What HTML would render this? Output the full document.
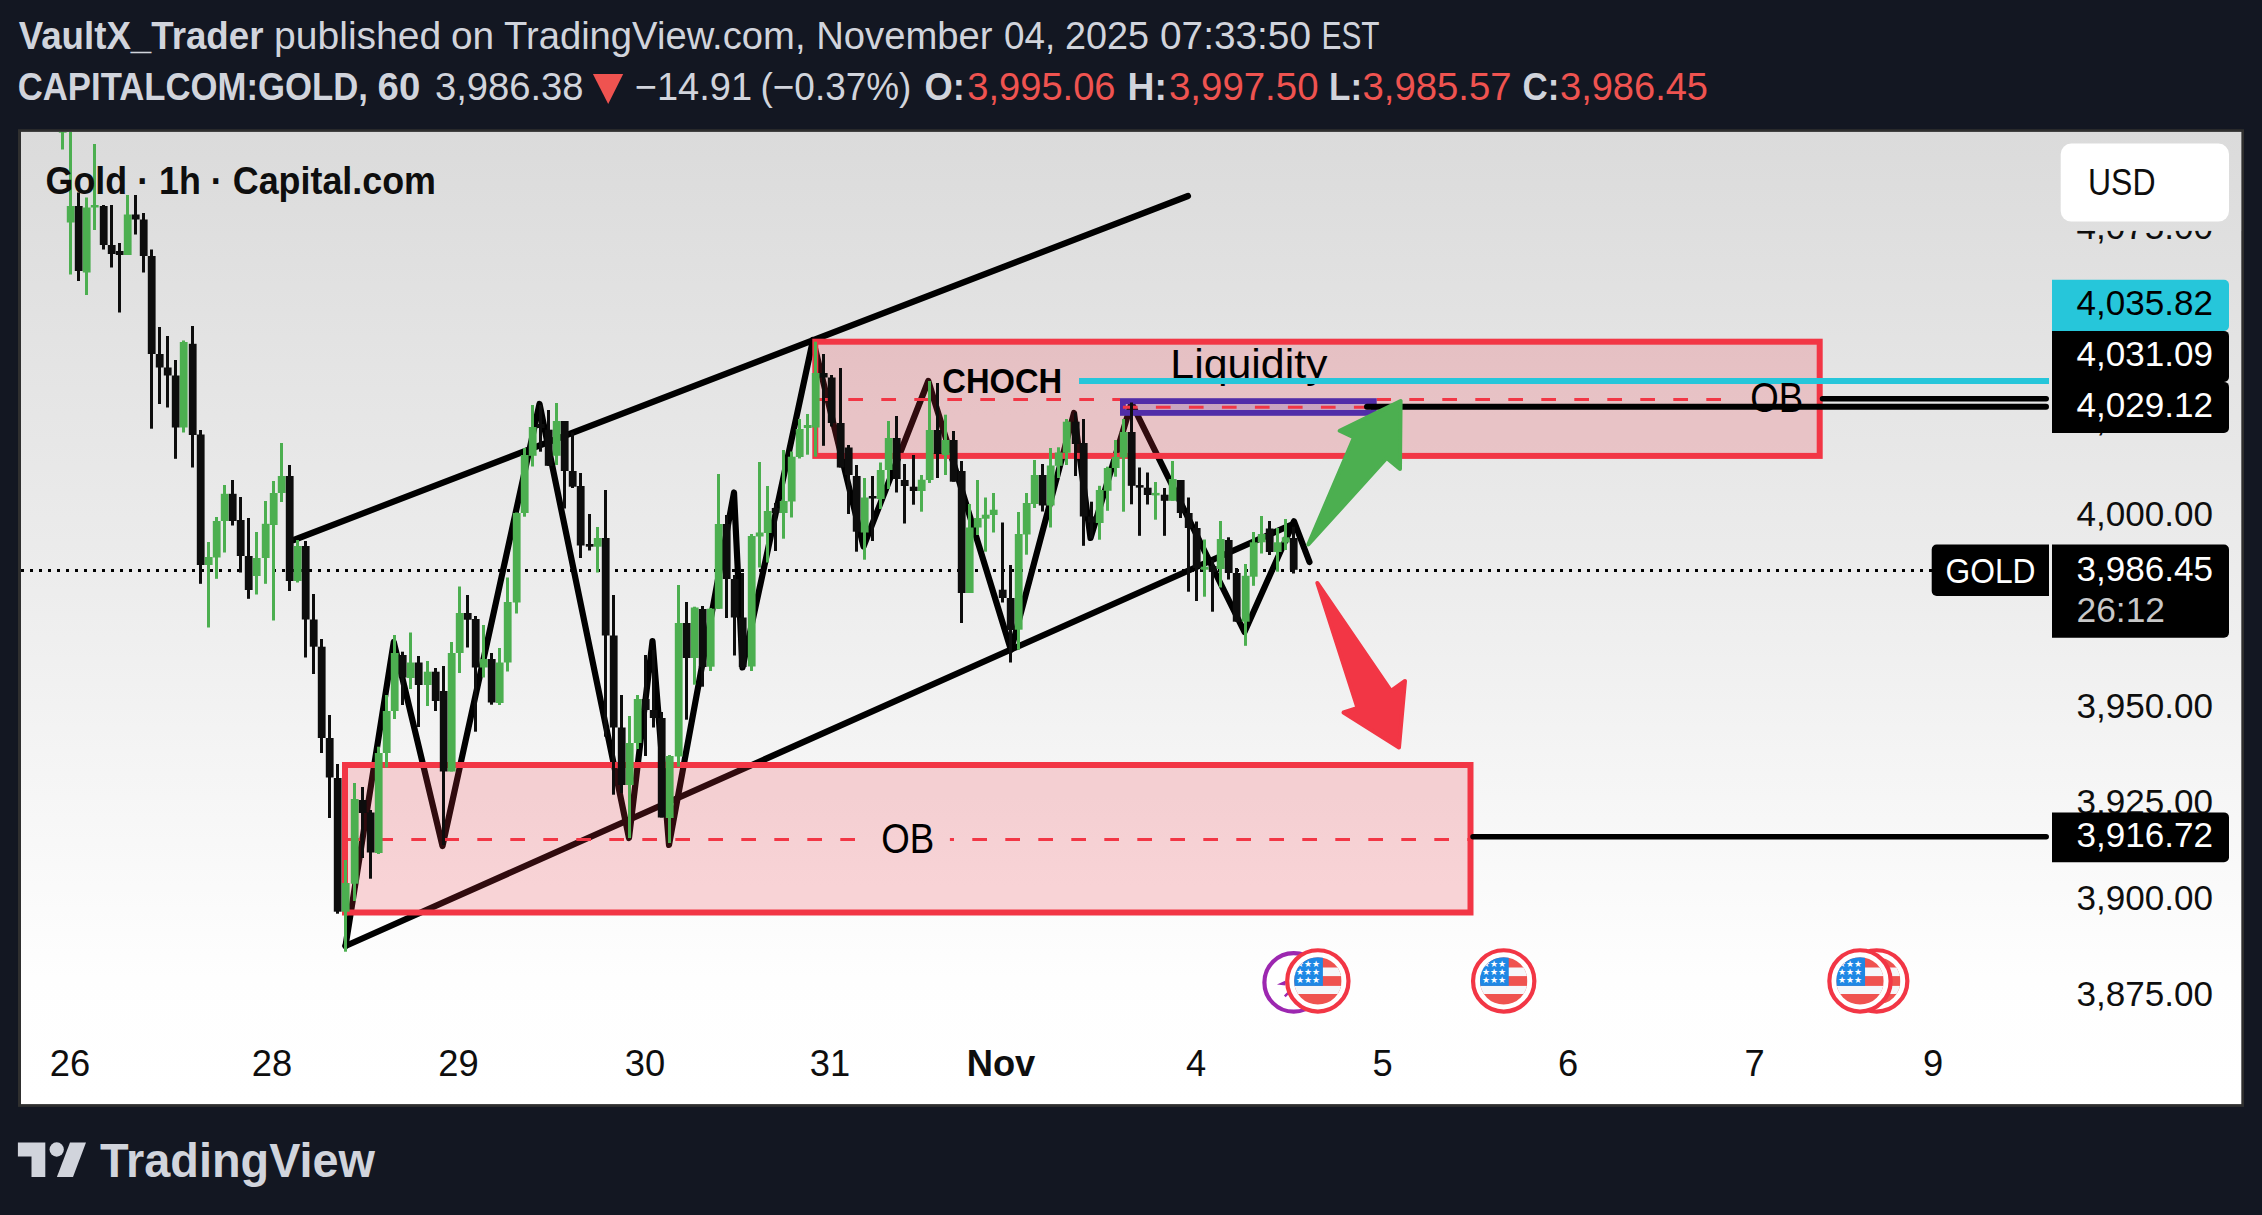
<!DOCTYPE html>
<html><head><meta charset="utf-8"><title>Gold chart</title>
<style>
html,body{margin:0;padding:0;background:#131722;}
body{width:2262px;height:1215px;overflow:hidden;font-family:'Liberation Sans', sans-serif;}
svg{display:block;position:absolute;left:0;top:0;}
svg text{font-family:'Liberation Sans', sans-serif;}
</style></head><body>
<svg width="2262" height="1215" viewBox="0 0 2262 1215">
<defs>
<linearGradient id="bg" gradientUnits="userSpaceOnUse" x1="0" y1="132" x2="0" y2="1104">
<stop offset="0" stop-color="#dbdbdb"/><stop offset="0.45" stop-color="#ececec"/><stop offset="0.87" stop-color="#fefefe"/><stop offset="1" stop-color="#ffffff"/>
</linearGradient>
<clipPath id="plot"><rect x="21" y="131.9" width="2220.3" height="972.2"/></clipPath>
</defs>
<rect x="0" y="0" width="2262" height="1215" fill="#131722"/>

<text x="18.7" y="49.4" font-size="38" fill="#d1d4dc" font-weight="bold" text-anchor="start" textLength="244.8" lengthAdjust="spacingAndGlyphs" >VaultX_Trader</text>
<text x="274.1" y="49.4" font-size="38" fill="#d1d4dc" font-weight="normal" text-anchor="start" textLength="167.18" lengthAdjust="spacingAndGlyphs" >published</text>
<text x="451.0" y="49.4" font-size="38" fill="#d1d4dc" font-weight="normal" text-anchor="start" textLength="43.19" lengthAdjust="spacingAndGlyphs" >on</text>
<text x="504.0" y="49.4" font-size="38" fill="#d1d4dc" font-weight="normal" text-anchor="start" textLength="301.53" lengthAdjust="spacingAndGlyphs" >TradingView.com,</text>
<text x="816.25" y="49.4" font-size="38" fill="#d1d4dc" font-weight="normal" text-anchor="start" textLength="176.28" lengthAdjust="spacingAndGlyphs" >November</text>
<text x="1004.0" y="49.4" font-size="38" fill="#d1d4dc" font-weight="normal" text-anchor="start" textLength="51.18" lengthAdjust="spacingAndGlyphs" >04,</text>
<text x="1065.0" y="49.4" font-size="38" fill="#d1d4dc" font-weight="normal" text-anchor="start" textLength="84.04" lengthAdjust="spacingAndGlyphs" >2025</text>
<text x="1160.0" y="49.4" font-size="38" fill="#d1d4dc" font-weight="normal" text-anchor="start" textLength="151.0" lengthAdjust="spacingAndGlyphs" >07:33:50</text>
<text x="1321.5" y="49.4" font-size="38" fill="#d1d4dc" font-weight="normal" text-anchor="start" textLength="58.03" lengthAdjust="spacingAndGlyphs" >EST</text>
<text x="17.7" y="100.4" font-size="38" fill="#d1d4dc" font-weight="bold" text-anchor="start" textLength="350.32" lengthAdjust="spacingAndGlyphs" >CAPITALCOM:GOLD,</text>
<text x="377.6" y="100.4" font-size="38" fill="#d1d4dc" font-weight="bold" text-anchor="start" textLength="42.7" lengthAdjust="spacingAndGlyphs" >60</text>
<text x="434.9" y="100.4" font-size="38" fill="#d1d4dc" font-weight="normal" text-anchor="start" textLength="148.64" lengthAdjust="spacingAndGlyphs" >3,986.38</text>
<text x="634.75" y="100.4" font-size="38" fill="#d1d4dc" font-weight="normal" text-anchor="start" textLength="117.31" lengthAdjust="spacingAndGlyphs" >−14.91</text>
<text x="760.5" y="100.4" font-size="38" fill="#d1d4dc" font-weight="normal" text-anchor="start" textLength="150.83" lengthAdjust="spacingAndGlyphs" >(−0.37%)</text>
<text x="924.5" y="100.4" font-size="38" fill="#d1d4dc" font-weight="bold" text-anchor="start" textLength="40.33" lengthAdjust="spacingAndGlyphs" >O:</text>
<text x="967.25" y="100.4" font-size="38" fill="#ef5350" font-weight="normal" text-anchor="start" textLength="148.27" lengthAdjust="spacingAndGlyphs" >3,995.06</text>
<text x="1127.5" y="100.4" font-size="38" fill="#d1d4dc" font-weight="bold" text-anchor="start" textLength="39.41" lengthAdjust="spacingAndGlyphs" >H:</text>
<text x="1169.0" y="100.4" font-size="38" fill="#ef5350" font-weight="normal" text-anchor="start" textLength="149.5" lengthAdjust="spacingAndGlyphs" >3,997.50</text>
<text x="1329.0" y="100.4" font-size="38" fill="#d1d4dc" font-weight="bold" text-anchor="start" textLength="33.07" lengthAdjust="spacingAndGlyphs" >L:</text>
<text x="1362.5" y="100.4" font-size="38" fill="#ef5350" font-weight="normal" text-anchor="start" textLength="149.02" lengthAdjust="spacingAndGlyphs" >3,985.57</text>
<text x="1522.5" y="100.4" font-size="38" fill="#d1d4dc" font-weight="bold" text-anchor="start" textLength="36.83" lengthAdjust="spacingAndGlyphs" >C:</text>
<text x="1560.0" y="100.4" font-size="38" fill="#ef5350" font-weight="normal" text-anchor="start" textLength="148.0" lengthAdjust="spacingAndGlyphs" >3,986.45</text>
<path d="M592.9 74 L623.2 74 L608.2 104 Z" fill="#ef5350"/>
<rect x="18" y="129.2" width="2226" height="977.7" fill="#2f2f2f"/>
<rect x="21" y="131.9" width="2220.3" height="972.2" fill="url(#bg)"/>
<g clip-path="url(#plot)">
<text x="2213" y="238.60000000000002" font-size="35.2" fill="#0e0e0e" font-weight="normal" text-anchor="end" textLength="136.6" lengthAdjust="spacingAndGlyphs" >4,075.00</text>
<text x="2213" y="526.3" font-size="35.2" fill="#0e0e0e" font-weight="normal" text-anchor="end" textLength="136.6" lengthAdjust="spacingAndGlyphs" >4,000.00</text>
<text x="2213" y="718.3" font-size="35.2" fill="#0e0e0e" font-weight="normal" text-anchor="end" textLength="136.6" lengthAdjust="spacingAndGlyphs" >3,950.00</text>
<text x="2213" y="814.0" font-size="35.2" fill="#0e0e0e" font-weight="normal" text-anchor="end" textLength="136.6" lengthAdjust="spacingAndGlyphs" >3,925.00</text>
<text x="2213" y="909.9" font-size="35.2" fill="#0e0e0e" font-weight="normal" text-anchor="end" textLength="136.6" lengthAdjust="spacingAndGlyphs" >3,900.00</text>
<text x="2213" y="1005.8" font-size="35.2" fill="#0e0e0e" font-weight="normal" text-anchor="end" textLength="136.6" lengthAdjust="spacingAndGlyphs" >3,875.00</text>
<text x="2213" y="430.5" font-size="35.2" fill="#0e0e0e" font-weight="normal" text-anchor="end" textLength="136.6" lengthAdjust="spacingAndGlyphs" >4,025.00</text>
<line x1="21" y1="570.5" x2="1932" y2="570.5" stroke="#000" stroke-width="3" stroke-dasharray="3 6"/>
<g fill="none" stroke="#000" stroke-width="6.2" stroke-linecap="round" stroke-linejoin="round">
<line x1="293.75" y1="540" x2="1188" y2="196"/>
<line x1="345.5" y1="946" x2="1293" y2="524"/>
<polyline points="345.5,946 393.75,642 442.5,846 539.5,404 629,838 652.5,641 669,845 734,492.5 742.5,667.5 813,340 863.5,546.5 928.3,381 1011,650 1074,413 1090.5,538 1131.5,403 1244.5,632 1294,521.3 1309.5,562"/>
</g>
<rect x="815.3" y="341.7" width="1004.4" height="114.2" fill="#f23645" fill-opacity="0.2" stroke="#f23645" stroke-width="6"/>
<line x1="815.3" y1="399.6" x2="1120" y2="399.6" stroke="#f23645" stroke-width="3" stroke-dasharray="14.7 18.3"/>
<line x1="1376.7" y1="399.6" x2="1722" y2="399.6" stroke="#f23645" stroke-width="3" stroke-dasharray="14.7 18.3" stroke-dashoffset="0.4"/>
<rect x="345" y="765" width="1125.5" height="147.5" fill="#f23645" fill-opacity="0.2" stroke="#f23645" stroke-width="6"/>
<line x1="345.3" y1="839.6" x2="856" y2="839.6" stroke="#f23645" stroke-width="3" stroke-dasharray="14.7 18.3"/>
<line x1="949.9" y1="839.6" x2="1468" y2="839.6" stroke="#f23645" stroke-width="3" stroke-dasharray="14.7 18.3" stroke-dashoffset="10.6"/>
<rect x="1122.9" y="401.1" width="250.9" height="11.8" fill="#512da8" fill-opacity="0.2" stroke="#512da8" stroke-width="5.8"/>
<line x1="1122.9" y1="407.2" x2="1374" y2="407.2" stroke="#f23645" stroke-width="3" stroke-dasharray="14.7 18.3"/>
<rect x="61" y="131.0" width="3" height="18.5" fill="#4caf50"/>
<rect x="58.8" y="130.2" width="7.8" height="2.5" fill="#4caf50"/>
<rect x="69" y="131.0" width="3" height="143.5" fill="#4caf50"/>
<rect x="66.8" y="206.0" width="7.8" height="16.5" fill="#4caf50"/>
<rect x="77" y="192.5" width="3" height="88.5" fill="#0d0d0d"/>
<rect x="74.8" y="206.0" width="7.8" height="65.0" fill="#0d0d0d"/>
<rect x="85" y="197.5" width="3" height="97.5" fill="#4caf50"/>
<rect x="82.8" y="207.5" width="7.8" height="65.0" fill="#4caf50"/>
<rect x="93" y="144.0" width="3" height="86.0" fill="#4caf50"/>
<rect x="90.8" y="205.0" width="7.8" height="2.5" fill="#4caf50"/>
<rect x="102" y="205.0" width="3" height="44.5" fill="#0d0d0d"/>
<rect x="99.8" y="206.0" width="7.8" height="39.0" fill="#0d0d0d"/>
<rect x="110" y="205.0" width="3" height="62.5" fill="#0d0d0d"/>
<rect x="107.8" y="245.0" width="7.8" height="9.0" fill="#0d0d0d"/>
<rect x="118" y="243.0" width="3" height="69.5" fill="#0d0d0d"/>
<rect x="115.8" y="251.0" width="7.8" height="4.0" fill="#0d0d0d"/>
<rect x="126" y="195.0" width="3" height="60.0" fill="#4caf50"/>
<rect x="123.8" y="214.5" width="7.8" height="40.5" fill="#4caf50"/>
<rect x="134" y="195.0" width="3" height="39.5" fill="#0d0d0d"/>
<rect x="131.8" y="214.5" width="7.8" height="5.0" fill="#0d0d0d"/>
<rect x="142" y="213.0" width="3" height="59.5" fill="#0d0d0d"/>
<rect x="139.8" y="219.5" width="7.8" height="36.5" fill="#0d0d0d"/>
<rect x="150" y="249.5" width="3" height="179.2" fill="#0d0d0d"/>
<rect x="147.8" y="256.0" width="7.8" height="98.0" fill="#0d0d0d"/>
<rect x="158" y="327.0" width="3" height="77.0" fill="#0d0d0d"/>
<rect x="155.8" y="354.0" width="7.8" height="13.5" fill="#0d0d0d"/>
<rect x="166" y="336.0" width="3" height="71.5" fill="#0d0d0d"/>
<rect x="163.8" y="367.5" width="7.8" height="8.0" fill="#0d0d0d"/>
<rect x="174" y="360.0" width="3" height="98.8" fill="#0d0d0d"/>
<rect x="171.8" y="375.5" width="7.8" height="52.0" fill="#0d0d0d"/>
<rect x="182" y="340.5" width="3" height="92.0" fill="#4caf50"/>
<rect x="179.8" y="342.0" width="7.8" height="85.5" fill="#4caf50"/>
<rect x="191" y="326.0" width="3" height="141.5" fill="#0d0d0d"/>
<rect x="188.8" y="343.8" width="7.8" height="91.2" fill="#0d0d0d"/>
<rect x="199" y="430.0" width="3" height="153.8" fill="#0d0d0d"/>
<rect x="196.8" y="434.5" width="7.8" height="130.5" fill="#0d0d0d"/>
<rect x="207" y="542.0" width="3" height="85.5" fill="#4caf50"/>
<rect x="204.8" y="557.0" width="7.8" height="8.0" fill="#4caf50"/>
<rect x="215" y="517.0" width="3" height="61.8" fill="#4caf50"/>
<rect x="212.8" y="521.0" width="7.8" height="36.5" fill="#4caf50"/>
<rect x="223" y="485.0" width="3" height="67.5" fill="#4caf50"/>
<rect x="220.8" y="493.8" width="7.8" height="27.2" fill="#4caf50"/>
<rect x="231" y="480.0" width="3" height="45.5" fill="#0d0d0d"/>
<rect x="228.8" y="493.8" width="7.8" height="27.2" fill="#0d0d0d"/>
<rect x="239" y="497.0" width="3" height="75.5" fill="#0d0d0d"/>
<rect x="236.8" y="520.0" width="7.8" height="36.0" fill="#0d0d0d"/>
<rect x="247" y="518.0" width="3" height="80.8" fill="#0d0d0d"/>
<rect x="244.8" y="556.0" width="7.8" height="34.0" fill="#0d0d0d"/>
<rect x="255" y="532.0" width="3" height="62.5" fill="#4caf50"/>
<rect x="252.8" y="558.0" width="7.8" height="18.0" fill="#4caf50"/>
<rect x="264" y="501.0" width="3" height="82.8" fill="#4caf50"/>
<rect x="261.8" y="523.8" width="7.8" height="34.2" fill="#4caf50"/>
<rect x="272" y="481.0" width="3" height="139.5" fill="#4caf50"/>
<rect x="269.8" y="493.0" width="7.8" height="32.0" fill="#4caf50"/>
<rect x="280" y="443.0" width="3" height="59.0" fill="#4caf50"/>
<rect x="277.8" y="476.0" width="7.8" height="17.0" fill="#4caf50"/>
<rect x="288" y="465.0" width="3" height="126.0" fill="#0d0d0d"/>
<rect x="285.8" y="476.0" width="7.8" height="105.0" fill="#0d0d0d"/>
<rect x="296" y="540.0" width="3" height="42.5" fill="#4caf50"/>
<rect x="293.8" y="546.0" width="7.8" height="35.0" fill="#4caf50"/>
<rect x="304" y="541.0" width="3" height="116.5" fill="#0d0d0d"/>
<rect x="301.8" y="546.0" width="7.8" height="73.5" fill="#0d0d0d"/>
<rect x="312" y="594.0" width="3" height="80.0" fill="#0d0d0d"/>
<rect x="309.8" y="619.5" width="7.8" height="27.2" fill="#0d0d0d"/>
<rect x="320" y="639.0" width="3" height="114.0" fill="#0d0d0d"/>
<rect x="317.8" y="646.7" width="7.8" height="91.3" fill="#0d0d0d"/>
<rect x="328" y="715.0" width="3" height="103.0" fill="#0d0d0d"/>
<rect x="325.8" y="738.0" width="7.8" height="39.5" fill="#0d0d0d"/>
<rect x="336" y="764.0" width="3" height="149.7" fill="#0d0d0d"/>
<rect x="333.8" y="778.0" width="7.8" height="133.7" fill="#0d0d0d"/>
<rect x="344" y="860.0" width="3" height="91.7" fill="#4caf50"/>
<rect x="341.8" y="883.0" width="7.8" height="28.7" fill="#4caf50"/>
<rect x="353" y="783.0" width="3" height="118.0" fill="#4caf50"/>
<rect x="350.8" y="799.0" width="7.8" height="84.7" fill="#4caf50"/>
<rect x="361" y="787.0" width="3" height="71.0" fill="#0d0d0d"/>
<rect x="358.8" y="800.0" width="7.8" height="13.0" fill="#0d0d0d"/>
<rect x="369" y="810.0" width="3" height="68.7" fill="#0d0d0d"/>
<rect x="366.8" y="812.5" width="7.8" height="40.0" fill="#0d0d0d"/>
<rect x="377" y="746.7" width="3" height="107.3" fill="#4caf50"/>
<rect x="374.8" y="753.0" width="7.8" height="100.0" fill="#4caf50"/>
<rect x="385" y="695.0" width="3" height="72.5" fill="#4caf50"/>
<rect x="382.8" y="711.0" width="7.8" height="42.0" fill="#4caf50"/>
<rect x="393" y="635.0" width="3" height="84.0" fill="#4caf50"/>
<rect x="390.8" y="653.0" width="7.8" height="58.0" fill="#4caf50"/>
<rect x="401" y="651.7" width="3" height="53.3" fill="#0d0d0d"/>
<rect x="398.8" y="655.0" width="7.8" height="22.5" fill="#0d0d0d"/>
<rect x="409" y="632.5" width="3" height="56.5" fill="#4caf50"/>
<rect x="406.8" y="662.5" width="7.8" height="15.5" fill="#4caf50"/>
<rect x="417" y="656.0" width="3" height="71.0" fill="#0d0d0d"/>
<rect x="414.8" y="662.5" width="7.8" height="22.5" fill="#0d0d0d"/>
<rect x="426" y="661.0" width="3" height="45.0" fill="#4caf50"/>
<rect x="423.8" y="671.7" width="7.8" height="13.3" fill="#4caf50"/>
<rect x="434" y="668.0" width="3" height="43.0" fill="#0d0d0d"/>
<rect x="431.8" y="671.7" width="7.8" height="29.3" fill="#0d0d0d"/>
<rect x="442" y="666.0" width="3" height="179.0" fill="#0d0d0d"/>
<rect x="439.8" y="691.0" width="7.8" height="80.5" fill="#0d0d0d"/>
<rect x="450" y="642.0" width="3" height="129.5" fill="#4caf50"/>
<rect x="447.8" y="653.0" width="7.8" height="118.5" fill="#4caf50"/>
<rect x="458" y="586.5" width="3" height="86.5" fill="#4caf50"/>
<rect x="455.8" y="613.0" width="7.8" height="40.0" fill="#4caf50"/>
<rect x="466" y="595.0" width="3" height="52.5" fill="#0d0d0d"/>
<rect x="463.8" y="613.0" width="7.8" height="6.7" fill="#0d0d0d"/>
<rect x="474" y="616.0" width="3" height="115.7" fill="#0d0d0d"/>
<rect x="471.8" y="619.0" width="7.8" height="48.5" fill="#0d0d0d"/>
<rect x="482" y="625.0" width="3" height="52.5" fill="#4caf50"/>
<rect x="479.8" y="659.0" width="7.8" height="8.5" fill="#4caf50"/>
<rect x="490" y="653.0" width="3" height="51.7" fill="#0d0d0d"/>
<rect x="487.8" y="659.0" width="7.8" height="43.5" fill="#0d0d0d"/>
<rect x="498" y="648.0" width="3" height="57.0" fill="#4caf50"/>
<rect x="495.8" y="662.5" width="7.8" height="40.5" fill="#4caf50"/>
<rect x="506" y="577.5" width="3" height="94.0" fill="#4caf50"/>
<rect x="503.8" y="602.0" width="7.8" height="60.5" fill="#4caf50"/>
<rect x="515" y="512.5" width="3" height="101.0" fill="#4caf50"/>
<rect x="512.8" y="513.0" width="7.8" height="89.5" fill="#4caf50"/>
<rect x="523" y="448.0" width="3" height="68.7" fill="#4caf50"/>
<rect x="520.8" y="455.0" width="7.8" height="58.0" fill="#4caf50"/>
<rect x="531" y="405.0" width="3" height="61.5" fill="#4caf50"/>
<rect x="528.8" y="427.0" width="7.8" height="28.8" fill="#4caf50"/>
<rect x="539" y="405.0" width="3" height="46.7" fill="#0d0d0d"/>
<rect x="536.8" y="424.0" width="7.8" height="4.0" fill="#0d0d0d"/>
<rect x="547" y="410.0" width="3" height="55.8" fill="#0d0d0d"/>
<rect x="544.8" y="429.7" width="7.8" height="36.1" fill="#0d0d0d"/>
<rect x="555" y="403.0" width="3" height="62.0" fill="#4caf50"/>
<rect x="552.8" y="421.0" width="7.8" height="34.8" fill="#4caf50"/>
<rect x="563" y="421.0" width="3" height="87.5" fill="#0d0d0d"/>
<rect x="560.8" y="421.0" width="7.8" height="50.0" fill="#0d0d0d"/>
<rect x="571" y="432.5" width="3" height="55.5" fill="#0d0d0d"/>
<rect x="568.8" y="471.0" width="7.8" height="15.7" fill="#0d0d0d"/>
<rect x="579" y="473.0" width="3" height="85.0" fill="#0d0d0d"/>
<rect x="576.8" y="486.0" width="7.8" height="59.5" fill="#0d0d0d"/>
<rect x="588" y="514.0" width="3" height="36.5" fill="#0d0d0d"/>
<rect x="585.8" y="544.0" width="7.8" height="2.7" fill="#0d0d0d"/>
<rect x="596" y="527.0" width="3" height="45.5" fill="#4caf50"/>
<rect x="593.8" y="538.0" width="7.8" height="8.7" fill="#4caf50"/>
<rect x="604" y="490.0" width="3" height="246.7" fill="#0d0d0d"/>
<rect x="601.8" y="538.0" width="7.8" height="97.5" fill="#0d0d0d"/>
<rect x="612" y="595.0" width="3" height="199.7" fill="#0d0d0d"/>
<rect x="609.8" y="635.5" width="7.8" height="92.0" fill="#0d0d0d"/>
<rect x="620" y="695.0" width="3" height="98.0" fill="#0d0d0d"/>
<rect x="617.8" y="727.5" width="7.8" height="57.5" fill="#0d0d0d"/>
<rect x="628" y="716.0" width="3" height="122.0" fill="#4caf50"/>
<rect x="625.8" y="743.0" width="7.8" height="42.0" fill="#4caf50"/>
<rect x="636" y="695.0" width="3" height="54.0" fill="#4caf50"/>
<rect x="633.8" y="699.0" width="7.8" height="44.0" fill="#4caf50"/>
<rect x="644" y="655.0" width="3" height="101.0" fill="#0d0d0d"/>
<rect x="641.8" y="699.0" width="7.8" height="11.0" fill="#0d0d0d"/>
<rect x="652" y="650.0" width="3" height="77.5" fill="#0d0d0d"/>
<rect x="649.8" y="710.0" width="7.8" height="8.0" fill="#0d0d0d"/>
<rect x="660" y="712.0" width="3" height="105.5" fill="#0d0d0d"/>
<rect x="657.8" y="718.0" width="7.8" height="99.5" fill="#0d0d0d"/>
<rect x="668" y="755.0" width="3" height="88.0" fill="#4caf50"/>
<rect x="665.8" y="756.0" width="7.8" height="62.0" fill="#4caf50"/>
<rect x="677" y="585.0" width="3" height="181.7" fill="#4caf50"/>
<rect x="674.8" y="623.0" width="7.8" height="133.5" fill="#4caf50"/>
<rect x="685" y="602.0" width="3" height="117.7" fill="#0d0d0d"/>
<rect x="682.8" y="623.0" width="7.8" height="35.0" fill="#0d0d0d"/>
<rect x="693" y="606.7" width="3" height="78.0" fill="#4caf50"/>
<rect x="690.8" y="607.5" width="7.8" height="50.5" fill="#4caf50"/>
<rect x="701" y="606.0" width="3" height="80.7" fill="#0d0d0d"/>
<rect x="698.8" y="609.0" width="7.8" height="58.0" fill="#0d0d0d"/>
<rect x="709" y="608.0" width="3" height="63.0" fill="#4caf50"/>
<rect x="706.8" y="608.7" width="7.8" height="58.0" fill="#4caf50"/>
<rect x="717" y="474.0" width="3" height="135.0" fill="#4caf50"/>
<rect x="714.8" y="524.0" width="7.8" height="84.8" fill="#4caf50"/>
<rect x="725" y="515.0" width="3" height="103.0" fill="#0d0d0d"/>
<rect x="722.8" y="524.0" width="7.8" height="55.0" fill="#0d0d0d"/>
<rect x="733" y="575.0" width="3" height="80.5" fill="#0d0d0d"/>
<rect x="730.8" y="579.0" width="7.8" height="38.5" fill="#0d0d0d"/>
<rect x="741" y="573.0" width="3" height="95.5" fill="#0d0d0d"/>
<rect x="738.8" y="617.5" width="7.8" height="49.5" fill="#0d0d0d"/>
<rect x="750" y="534.0" width="3" height="137.0" fill="#4caf50"/>
<rect x="747.8" y="536.0" width="7.8" height="130.5" fill="#4caf50"/>
<rect x="758" y="462.0" width="3" height="105.5" fill="#4caf50"/>
<rect x="755.8" y="532.5" width="7.8" height="4.0" fill="#4caf50"/>
<rect x="766" y="486.0" width="3" height="76.5" fill="#4caf50"/>
<rect x="763.8" y="511.0" width="7.8" height="22.0" fill="#4caf50"/>
<rect x="774" y="503.0" width="3" height="48.0" fill="#0d0d0d"/>
<rect x="771.8" y="508.0" width="7.8" height="5.0" fill="#0d0d0d"/>
<rect x="782" y="450.0" width="3" height="88.7" fill="#4caf50"/>
<rect x="779.8" y="501.0" width="7.8" height="12.0" fill="#4caf50"/>
<rect x="790" y="451.5" width="3" height="66.0" fill="#4caf50"/>
<rect x="787.8" y="456.7" width="7.8" height="44.8" fill="#4caf50"/>
<rect x="798" y="419.0" width="3" height="39.5" fill="#4caf50"/>
<rect x="795.8" y="429.0" width="7.8" height="28.0" fill="#4caf50"/>
<rect x="806" y="414.0" width="3" height="40.7" fill="#4caf50"/>
<rect x="803.8" y="425.0" width="7.8" height="3.0" fill="#4caf50"/>
<rect x="814" y="341.7" width="3" height="115.0" fill="#4caf50"/>
<rect x="811.8" y="373.0" width="7.8" height="54.5" fill="#4caf50"/>
<rect x="822" y="354.0" width="3" height="91.8" fill="#0d0d0d"/>
<rect x="819.8" y="373.0" width="7.8" height="4.5" fill="#0d0d0d"/>
<rect x="830" y="375.0" width="3" height="51.5" fill="#0d0d0d"/>
<rect x="827.8" y="377.5" width="7.8" height="45.5" fill="#0d0d0d"/>
<rect x="839" y="368.0" width="3" height="99.5" fill="#0d0d0d"/>
<rect x="836.8" y="423.0" width="7.8" height="44.5" fill="#0d0d0d"/>
<rect x="847" y="445.0" width="3" height="69.0" fill="#0d0d0d"/>
<rect x="844.8" y="447.5" width="7.8" height="27.5" fill="#0d0d0d"/>
<rect x="855" y="465.0" width="3" height="86.7" fill="#0d0d0d"/>
<rect x="852.8" y="476.0" width="7.8" height="55.7" fill="#0d0d0d"/>
<rect x="863" y="478.0" width="3" height="81.7" fill="#4caf50"/>
<rect x="860.8" y="497.5" width="7.8" height="35.0" fill="#4caf50"/>
<rect x="871" y="476.0" width="3" height="65.0" fill="#0d0d0d"/>
<rect x="868.8" y="496.0" width="7.8" height="2.5" fill="#0d0d0d"/>
<rect x="879" y="462.5" width="3" height="46.5" fill="#4caf50"/>
<rect x="876.8" y="470.0" width="7.8" height="29.0" fill="#4caf50"/>
<rect x="887" y="421.0" width="3" height="68.0" fill="#4caf50"/>
<rect x="884.8" y="438.0" width="7.8" height="32.0" fill="#4caf50"/>
<rect x="895" y="416.0" width="3" height="76.5" fill="#0d0d0d"/>
<rect x="892.8" y="438.0" width="7.8" height="41.0" fill="#0d0d0d"/>
<rect x="903" y="464.0" width="3" height="59.5" fill="#0d0d0d"/>
<rect x="900.8" y="480.0" width="7.8" height="6.0" fill="#0d0d0d"/>
<rect x="912" y="455.0" width="3" height="49.7" fill="#0d0d0d"/>
<rect x="909.8" y="486.7" width="7.8" height="4.3" fill="#0d0d0d"/>
<rect x="920" y="475.0" width="3" height="36.7" fill="#4caf50"/>
<rect x="917.8" y="479.7" width="7.8" height="11.3" fill="#4caf50"/>
<rect x="928" y="381.0" width="3" height="102.0" fill="#4caf50"/>
<rect x="925.8" y="430.0" width="7.8" height="50.0" fill="#4caf50"/>
<rect x="936" y="383.0" width="3" height="95.0" fill="#0d0d0d"/>
<rect x="933.8" y="430.0" width="7.8" height="24.0" fill="#0d0d0d"/>
<rect x="944" y="414.7" width="3" height="60.3" fill="#4caf50"/>
<rect x="941.8" y="440.0" width="7.8" height="15.0" fill="#4caf50"/>
<rect x="952" y="431.0" width="3" height="50.7" fill="#0d0d0d"/>
<rect x="949.8" y="440.0" width="7.8" height="41.7" fill="#0d0d0d"/>
<rect x="960" y="461.0" width="3" height="162.0" fill="#0d0d0d"/>
<rect x="957.8" y="471.0" width="7.8" height="122.0" fill="#0d0d0d"/>
<rect x="968" y="504.0" width="3" height="89.0" fill="#4caf50"/>
<rect x="965.8" y="527.5" width="7.8" height="65.5" fill="#4caf50"/>
<rect x="976" y="480.0" width="3" height="55.0" fill="#4caf50"/>
<rect x="973.8" y="518.0" width="7.8" height="9.5" fill="#4caf50"/>
<rect x="984" y="497.5" width="3" height="54.2" fill="#4caf50"/>
<rect x="981.8" y="514.7" width="7.8" height="4.0" fill="#4caf50"/>
<rect x="992" y="493.0" width="3" height="39.5" fill="#4caf50"/>
<rect x="989.8" y="509.7" width="7.8" height="5.3" fill="#4caf50"/>
<rect x="1001" y="522.5" width="3" height="80.0" fill="#0d0d0d"/>
<rect x="998.8" y="589.7" width="7.8" height="8.3" fill="#0d0d0d"/>
<rect x="1009" y="565.0" width="3" height="97.5" fill="#0d0d0d"/>
<rect x="1006.8" y="598.0" width="7.8" height="32.0" fill="#0d0d0d"/>
<rect x="1017" y="512.0" width="3" height="137.7" fill="#4caf50"/>
<rect x="1014.8" y="534.0" width="7.8" height="95.7" fill="#4caf50"/>
<rect x="1025" y="493.0" width="3" height="61.7" fill="#4caf50"/>
<rect x="1022.8" y="503.0" width="7.8" height="31.5" fill="#4caf50"/>
<rect x="1033" y="460.0" width="3" height="48.0" fill="#4caf50"/>
<rect x="1030.8" y="475.0" width="7.8" height="29.0" fill="#4caf50"/>
<rect x="1041" y="464.0" width="3" height="47.5" fill="#0d0d0d"/>
<rect x="1038.8" y="475.0" width="7.8" height="30.5" fill="#0d0d0d"/>
<rect x="1049" y="448.0" width="3" height="79.5" fill="#4caf50"/>
<rect x="1046.8" y="465.5" width="7.8" height="40.0" fill="#4caf50"/>
<rect x="1057" y="447.3" width="3" height="30.7" fill="#4caf50"/>
<rect x="1054.8" y="452.5" width="7.8" height="13.3" fill="#4caf50"/>
<rect x="1065" y="419.0" width="3" height="46.0" fill="#4caf50"/>
<rect x="1062.8" y="421.7" width="7.8" height="31.1" fill="#4caf50"/>
<rect x="1074" y="412.5" width="3" height="63.5" fill="#0d0d0d"/>
<rect x="1071.8" y="421.7" width="7.8" height="22.3" fill="#0d0d0d"/>
<rect x="1082" y="419.0" width="3" height="126.8" fill="#0d0d0d"/>
<rect x="1079.8" y="443.0" width="7.8" height="73.5" fill="#0d0d0d"/>
<rect x="1090" y="501.7" width="3" height="36.8" fill="#0d0d0d"/>
<rect x="1087.8" y="516.5" width="7.8" height="6.0" fill="#0d0d0d"/>
<rect x="1098" y="485.8" width="3" height="53.9" fill="#4caf50"/>
<rect x="1095.8" y="490.0" width="7.8" height="33.0" fill="#4caf50"/>
<rect x="1106" y="466.7" width="3" height="44.1" fill="#4caf50"/>
<rect x="1103.8" y="468.0" width="7.8" height="22.8" fill="#4caf50"/>
<rect x="1114" y="440.0" width="3" height="36.7" fill="#4caf50"/>
<rect x="1111.8" y="457.0" width="7.8" height="11.0" fill="#4caf50"/>
<rect x="1122" y="419.0" width="3" height="92.7" fill="#4caf50"/>
<rect x="1119.8" y="432.0" width="7.8" height="25.5" fill="#4caf50"/>
<rect x="1130" y="402.5" width="3" height="101.8" fill="#0d0d0d"/>
<rect x="1127.8" y="432.0" width="7.8" height="53.8" fill="#0d0d0d"/>
<rect x="1138" y="467.5" width="3" height="68.3" fill="#0d0d0d"/>
<rect x="1135.8" y="485.1" width="7.8" height="2.5" fill="#0d0d0d"/>
<rect x="1146" y="472.5" width="3" height="32.0" fill="#0d0d0d"/>
<rect x="1143.8" y="487.7" width="7.8" height="7.3" fill="#0d0d0d"/>
<rect x="1154" y="482.0" width="3" height="37.7" fill="#4caf50"/>
<rect x="1151.8" y="492.9" width="7.8" height="2.5" fill="#4caf50"/>
<rect x="1163" y="488.0" width="3" height="47.8" fill="#0d0d0d"/>
<rect x="1160.8" y="494.7" width="7.8" height="6.1" fill="#0d0d0d"/>
<rect x="1171" y="461.0" width="3" height="39.8" fill="#4caf50"/>
<rect x="1168.8" y="479.0" width="7.8" height="21.8" fill="#4caf50"/>
<rect x="1179" y="480.0" width="3" height="38.0" fill="#0d0d0d"/>
<rect x="1176.8" y="480.0" width="7.8" height="33.0" fill="#0d0d0d"/>
<rect x="1187" y="497.5" width="3" height="94.2" fill="#0d0d0d"/>
<rect x="1184.8" y="513.0" width="7.8" height="15.0" fill="#0d0d0d"/>
<rect x="1195" y="521.5" width="3" height="79.5" fill="#0d0d0d"/>
<rect x="1192.8" y="528.0" width="7.8" height="40.0" fill="#0d0d0d"/>
<rect x="1203" y="539.5" width="3" height="57.2" fill="#4caf50"/>
<rect x="1200.8" y="566.7" width="7.8" height="3.0" fill="#4caf50"/>
<rect x="1211" y="560.0" width="3" height="51.7" fill="#0d0d0d"/>
<rect x="1208.8" y="566.0" width="7.8" height="6.0" fill="#0d0d0d"/>
<rect x="1219" y="521.0" width="3" height="66.5" fill="#4caf50"/>
<rect x="1216.8" y="539.0" width="7.8" height="30.0" fill="#4caf50"/>
<rect x="1227" y="537.3" width="3" height="42.2" fill="#0d0d0d"/>
<rect x="1224.8" y="540.0" width="7.8" height="33.0" fill="#0d0d0d"/>
<rect x="1235" y="568.0" width="3" height="53.7" fill="#0d0d0d"/>
<rect x="1232.8" y="573.0" width="7.8" height="48.7" fill="#0d0d0d"/>
<rect x="1244" y="564.0" width="3" height="81.8" fill="#4caf50"/>
<rect x="1241.8" y="575.8" width="7.8" height="45.9" fill="#4caf50"/>
<rect x="1252" y="532.0" width="3" height="53.8" fill="#4caf50"/>
<rect x="1249.8" y="542.3" width="7.8" height="34.4" fill="#4caf50"/>
<rect x="1260" y="516.0" width="3" height="37.5" fill="#4caf50"/>
<rect x="1257.8" y="534.0" width="7.8" height="8.3" fill="#4caf50"/>
<rect x="1268" y="521.0" width="3" height="34.0" fill="#0d0d0d"/>
<rect x="1265.8" y="528.5" width="7.8" height="23.5" fill="#0d0d0d"/>
<rect x="1276" y="528.0" width="3" height="43.7" fill="#4caf50"/>
<rect x="1273.8" y="542.3" width="7.8" height="9.7" fill="#4caf50"/>
<rect x="1284" y="519.0" width="3" height="31.0" fill="#4caf50"/>
<rect x="1281.8" y="537.3" width="7.8" height="5.2" fill="#4caf50"/>
<rect x="1292" y="526.7" width="3" height="46.8" fill="#0d0d0d"/>
<rect x="1289.8" y="538.0" width="7.8" height="31.8" fill="#0d0d0d"/>
<line x1="1079.2" y1="381" x2="2049" y2="381" stroke="#26c6da" stroke-width="6"/>
<line x1="1367" y1="406.8" x2="2046" y2="406.8" stroke="#000" stroke-width="6" stroke-linecap="round"/>
<line x1="1822.5" y1="398.75" x2="2046.2" y2="398.75" stroke="#000" stroke-width="5.5" stroke-linecap="round"/>
<line x1="1473" y1="836.75" x2="2046.2" y2="836.75" stroke="#000" stroke-width="5.5" stroke-linecap="round"/>
<text x="942.3" y="393.3" font-size="34.6" fill="#000" font-weight="bold" text-anchor="start" textLength="119.8" lengthAdjust="spacingAndGlyphs" >CHOCH</text>
<text x="1170.3" y="378" font-size="39.9" fill="#000" font-weight="normal" text-anchor="start" textLength="157.2" lengthAdjust="spacingAndGlyphs" >Liquidity</text>
<line x1="1079.2" y1="381" x2="2049" y2="381" stroke="#26c6da" stroke-width="6"/>
<text x="1750.3" y="412" font-size="43.3" fill="#000" font-weight="normal" text-anchor="start" textLength="53" lengthAdjust="spacingAndGlyphs" >OB</text>
<text x="881.2" y="853" font-size="43.3" fill="#000" font-weight="normal" text-anchor="start" textLength="53" lengthAdjust="spacingAndGlyphs" >OB</text>
<path d="M1308.3 544.5 L1354 437.5 L1339.7 430.8 L1400.6 401 L1400 469 L1386.7 458 Z" fill="#4caf50" stroke="#4caf50" stroke-width="4" stroke-linejoin="round"/>
<path d="M1317.3 583 L1391 691 L1405 681 L1399 747.5 L1343.5 712.5 L1357.5 708 Z" fill="#f23645" stroke="#f23645" stroke-width="4" stroke-linejoin="round"/>
<text x="45.5" y="193.75" font-size="38" fill="#0e0e0e" font-weight="bold" text-anchor="start" textLength="390.5" lengthAdjust="spacingAndGlyphs" >Gold · 1h · Capital.com</text>
<circle cx="1293.7" cy="982.4" r="29.3" fill="#fff" stroke="#9c27b0" stroke-width="4.2"/>
<path d="M1285.6 981.8 L1281.2 983.8 L1285.6 984.4 M1284.8 996.4 L1288.5 992.6" fill="none" stroke="#9c27b0" stroke-width="2.4"/>
<circle cx="1317.85" cy="980.9" r="30.65" fill="#fff" stroke="#f23645" stroke-width="4.2"/><clipPath id="fc1317"><circle cx="1317.85" cy="980.9" r="23.75"/></clipPath><g clip-path="url(#fc1317)"><rect x="1294.1" y="957.15" width="47.5" height="47.5" fill="#ef5350"/><rect x="1294.1" y="967.5" width="47.5" height="8.6" fill="#f5f7fa"/><rect x="1294.1" y="985.9" width="47.5" height="8.1" fill="#f5f7fa"/><rect x="1294.1" y="957.15" width="28.8" height="28.75" fill="#1e88e5"/><text x="1300.0" y="966.6" font-size="8.6" fill="#fff" text-anchor="middle" font-family="'DejaVu Sans', sans-serif">★</text><text x="1300.0" y="974.6" font-size="8.6" fill="#fff" text-anchor="middle" font-family="'DejaVu Sans', sans-serif">★</text><text x="1300.0" y="982.6" font-size="8.6" fill="#fff" text-anchor="middle" font-family="'DejaVu Sans', sans-serif">★</text><text x="1308.0" y="966.6" font-size="8.6" fill="#fff" text-anchor="middle" font-family="'DejaVu Sans', sans-serif">★</text><text x="1308.0" y="974.6" font-size="8.6" fill="#fff" text-anchor="middle" font-family="'DejaVu Sans', sans-serif">★</text><text x="1308.0" y="982.6" font-size="8.6" fill="#fff" text-anchor="middle" font-family="'DejaVu Sans', sans-serif">★</text><text x="1316.0" y="966.6" font-size="8.6" fill="#fff" text-anchor="middle" font-family="'DejaVu Sans', sans-serif">★</text><text x="1316.0" y="974.6" font-size="8.6" fill="#fff" text-anchor="middle" font-family="'DejaVu Sans', sans-serif">★</text><text x="1316.0" y="982.6" font-size="8.6" fill="#fff" text-anchor="middle" font-family="'DejaVu Sans', sans-serif">★</text></g>
<circle cx="1503.7" cy="980.9" r="30.65" fill="#fff" stroke="#f23645" stroke-width="4.2"/><clipPath id="fc1503"><circle cx="1503.7" cy="980.9" r="23.75"/></clipPath><g clip-path="url(#fc1503)"><rect x="1479.95" y="957.15" width="47.5" height="47.5" fill="#ef5350"/><rect x="1479.95" y="967.5" width="47.5" height="8.6" fill="#f5f7fa"/><rect x="1479.95" y="985.9" width="47.5" height="8.1" fill="#f5f7fa"/><rect x="1479.95" y="957.15" width="28.8" height="28.75" fill="#1e88e5"/><text x="1485.9" y="966.6" font-size="8.6" fill="#fff" text-anchor="middle" font-family="'DejaVu Sans', sans-serif">★</text><text x="1485.9" y="974.6" font-size="8.6" fill="#fff" text-anchor="middle" font-family="'DejaVu Sans', sans-serif">★</text><text x="1485.9" y="982.6" font-size="8.6" fill="#fff" text-anchor="middle" font-family="'DejaVu Sans', sans-serif">★</text><text x="1493.9" y="966.6" font-size="8.6" fill="#fff" text-anchor="middle" font-family="'DejaVu Sans', sans-serif">★</text><text x="1493.9" y="974.6" font-size="8.6" fill="#fff" text-anchor="middle" font-family="'DejaVu Sans', sans-serif">★</text><text x="1493.9" y="982.6" font-size="8.6" fill="#fff" text-anchor="middle" font-family="'DejaVu Sans', sans-serif">★</text><text x="1501.9" y="966.6" font-size="8.6" fill="#fff" text-anchor="middle" font-family="'DejaVu Sans', sans-serif">★</text><text x="1501.9" y="974.6" font-size="8.6" fill="#fff" text-anchor="middle" font-family="'DejaVu Sans', sans-serif">★</text><text x="1501.9" y="982.6" font-size="8.6" fill="#fff" text-anchor="middle" font-family="'DejaVu Sans', sans-serif">★</text></g>
<circle cx="1876.7" cy="980.9" r="30.65" fill="#fff" stroke="#f23645" stroke-width="4.2"/><clipPath id="fc1876"><circle cx="1876.7" cy="980.9" r="23.75"/></clipPath><g clip-path="url(#fc1876)"><rect x="1852.95" y="957.15" width="47.5" height="47.5" fill="#ef5350"/><rect x="1852.95" y="967.5" width="47.5" height="8.6" fill="#f5f7fa"/><rect x="1852.95" y="985.9" width="47.5" height="8.1" fill="#f5f7fa"/><rect x="1852.95" y="957.15" width="28.8" height="28.75" fill="#1e88e5"/><text x="1858.9" y="966.6" font-size="8.6" fill="#fff" text-anchor="middle" font-family="'DejaVu Sans', sans-serif">★</text><text x="1858.9" y="974.6" font-size="8.6" fill="#fff" text-anchor="middle" font-family="'DejaVu Sans', sans-serif">★</text><text x="1858.9" y="982.6" font-size="8.6" fill="#fff" text-anchor="middle" font-family="'DejaVu Sans', sans-serif">★</text><text x="1866.9" y="966.6" font-size="8.6" fill="#fff" text-anchor="middle" font-family="'DejaVu Sans', sans-serif">★</text><text x="1866.9" y="974.6" font-size="8.6" fill="#fff" text-anchor="middle" font-family="'DejaVu Sans', sans-serif">★</text><text x="1866.9" y="982.6" font-size="8.6" fill="#fff" text-anchor="middle" font-family="'DejaVu Sans', sans-serif">★</text><text x="1874.9" y="966.6" font-size="8.6" fill="#fff" text-anchor="middle" font-family="'DejaVu Sans', sans-serif">★</text><text x="1874.9" y="974.6" font-size="8.6" fill="#fff" text-anchor="middle" font-family="'DejaVu Sans', sans-serif">★</text><text x="1874.9" y="982.6" font-size="8.6" fill="#fff" text-anchor="middle" font-family="'DejaVu Sans', sans-serif">★</text></g>
<circle cx="1860" cy="980.9" r="30.65" fill="#fff" stroke="#f23645" stroke-width="4.2"/><clipPath id="fc1860"><circle cx="1860" cy="980.9" r="23.75"/></clipPath><g clip-path="url(#fc1860)"><rect x="1836.25" y="957.15" width="47.5" height="47.5" fill="#ef5350"/><rect x="1836.25" y="967.5" width="47.5" height="8.6" fill="#f5f7fa"/><rect x="1836.25" y="985.9" width="47.5" height="8.1" fill="#f5f7fa"/><rect x="1836.25" y="957.15" width="28.8" height="28.75" fill="#1e88e5"/><text x="1842.2" y="966.6" font-size="8.6" fill="#fff" text-anchor="middle" font-family="'DejaVu Sans', sans-serif">★</text><text x="1842.2" y="974.6" font-size="8.6" fill="#fff" text-anchor="middle" font-family="'DejaVu Sans', sans-serif">★</text><text x="1842.2" y="982.6" font-size="8.6" fill="#fff" text-anchor="middle" font-family="'DejaVu Sans', sans-serif">★</text><text x="1850.2" y="966.6" font-size="8.6" fill="#fff" text-anchor="middle" font-family="'DejaVu Sans', sans-serif">★</text><text x="1850.2" y="974.6" font-size="8.6" fill="#fff" text-anchor="middle" font-family="'DejaVu Sans', sans-serif">★</text><text x="1850.2" y="982.6" font-size="8.6" fill="#fff" text-anchor="middle" font-family="'DejaVu Sans', sans-serif">★</text><text x="1858.2" y="966.6" font-size="8.6" fill="#fff" text-anchor="middle" font-family="'DejaVu Sans', sans-serif">★</text><text x="1858.2" y="974.6" font-size="8.6" fill="#fff" text-anchor="middle" font-family="'DejaVu Sans', sans-serif">★</text><text x="1858.2" y="982.6" font-size="8.6" fill="#fff" text-anchor="middle" font-family="'DejaVu Sans', sans-serif">★</text></g>
<text x="70" y="1075.7" font-size="36.3" fill="#0e0e0e" font-weight="normal" text-anchor="middle" >26</text>
<text x="272" y="1075.7" font-size="36.3" fill="#0e0e0e" font-weight="normal" text-anchor="middle" >28</text>
<text x="458.5" y="1075.7" font-size="36.3" fill="#0e0e0e" font-weight="normal" text-anchor="middle" >29</text>
<text x="645" y="1075.7" font-size="36.3" fill="#0e0e0e" font-weight="normal" text-anchor="middle" >30</text>
<text x="830" y="1075.7" font-size="36.3" fill="#0e0e0e" font-weight="normal" text-anchor="middle" >31</text>
<text x="1001" y="1075.7" font-size="36.3" fill="#0e0e0e" font-weight="bold" text-anchor="middle" >Nov</text>
<text x="1196" y="1075.7" font-size="36.3" fill="#0e0e0e" font-weight="normal" text-anchor="middle" >4</text>
<text x="1382.5" y="1075.7" font-size="36.3" fill="#0e0e0e" font-weight="normal" text-anchor="middle" >5</text>
<text x="1568" y="1075.7" font-size="36.3" fill="#0e0e0e" font-weight="normal" text-anchor="middle" >6</text>
<text x="1754.5" y="1075.7" font-size="36.3" fill="#0e0e0e" font-weight="normal" text-anchor="middle" >7</text>
<text x="1933" y="1075.7" font-size="36.3" fill="#0e0e0e" font-weight="normal" text-anchor="middle" >9</text>
<rect x="2052" y="131.9" width="189.3" height="99" fill="url(#bg)"/>
<rect x="2060.7" y="143.6" width="168.3" height="78" rx="10.5" fill="#fff"/>
<text x="2088" y="195" font-size="36" fill="#0e0e0e" font-weight="normal" text-anchor="start" textLength="67.5" lengthAdjust="spacingAndGlyphs" >USD</text>
<path d="M2052 279.8 H2224 a5 5 0 0 1 5 5 V325.9 a5 5 0 0 1 -5 5 H2052 Z" fill="#26c6da"/>
<text x="2213" y="314.9" font-size="35.2" fill="#000" font-weight="normal" text-anchor="end" textLength="136.6" lengthAdjust="spacingAndGlyphs" >4,035.82</text>
<path d="M2052 330.9 H2224 a5 5 0 0 1 5 5 V376.9 a5 5 0 0 1 -5 5 H2052 Z" fill="#000"/>
<text x="2213" y="365.9" font-size="35.2" fill="#fff" font-weight="normal" text-anchor="end" textLength="136.6" lengthAdjust="spacingAndGlyphs" >4,031.09</text>
<path d="M2052 381.9 H2224 a5 5 0 0 1 5 5 V428 a5 5 0 0 1 -5 5 H2052 Z" fill="#000"/>
<text x="2213" y="417" font-size="35.2" fill="#fff" font-weight="normal" text-anchor="end" textLength="136.6" lengthAdjust="spacingAndGlyphs" >4,029.12</text>
<path d="M1936.7 544.5 H2049 V596 H1936.7 a5 5 0 0 1 -5 -5 V549.5 a5 5 0 0 1 5 -5 Z" fill="#000"/>
<text x="1945.5" y="583" font-size="34.5" fill="#fff" font-weight="normal" text-anchor="start" textLength="90" lengthAdjust="spacingAndGlyphs" >GOLD</text>
<path d="M2052 544.5 H2224 a5 5 0 0 1 5 5 V632.8 a5 5 0 0 1 -5 5 H2052 Z" fill="#000"/>
<text x="2213" y="581" font-size="35.2" fill="#fff" font-weight="normal" text-anchor="end" textLength="136.6" lengthAdjust="spacingAndGlyphs" >3,986.45</text>
<text x="2076.5" y="622" font-size="35.2" fill="#c8c8c8" font-weight="normal" text-anchor="start" textLength="88.5" lengthAdjust="spacingAndGlyphs" >26:12</text>
<path d="M2052 812.4 H2224 a5 5 0 0 1 5 5 V857.2 a5 5 0 0 1 -5 5 H2052 Z" fill="#000"/>
<text x="2213" y="846.8" font-size="35.2" fill="#fff" font-weight="normal" text-anchor="end" textLength="136.6" lengthAdjust="spacingAndGlyphs" >3,916.72</text>
</g>
<path d="M17.9 1142.6 H45.3 V1176.9 H31.5 V1156.4 H17.9 Z" fill="#d1d4dc"/>
<circle cx="56.7" cy="1149.5" r="7.15" fill="#d1d4dc"/>
<path d="M70 1142.6 H86 L73 1176.9 H56.9 Z" fill="#d1d4dc"/>
<text x="100" y="1176.75" font-size="48" fill="#d1d4dc" font-weight="bold" text-anchor="start" textLength="275" lengthAdjust="spacingAndGlyphs" >TradingView</text>
</svg></body></html>
